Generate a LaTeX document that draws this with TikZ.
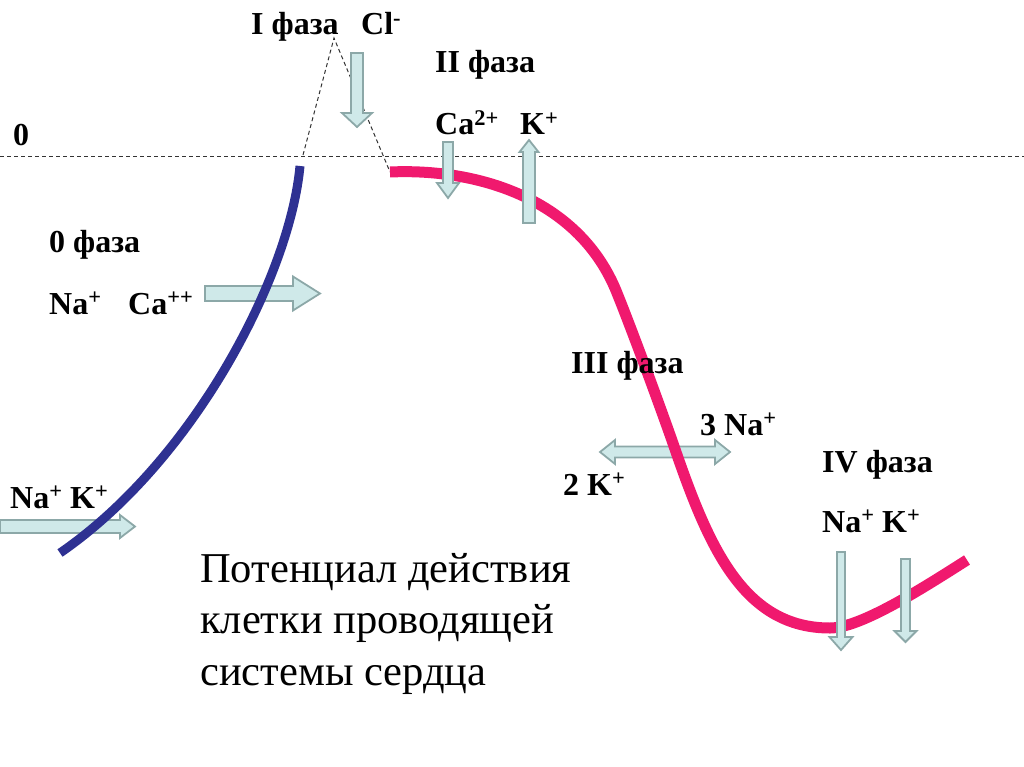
\documentclass[tikz,border=0pt]{standalone}
\usepackage{fontspec}
\setmainfont{Liberation Serif}
\usepackage{tikz}

\definecolor{ionfill}{HTML}{CFE9E9}
\definecolor{ionrim}{HTML}{8CA8A8}
\definecolor{depol}{HTML}{2E3192}
\definecolor{repol}{HTML}{F0196E}

\tikzset{
  phase/.style={font=\bfseries\fontsize{32}{36}\selectfont, anchor=base west, inner sep=0pt},
  ionarrow/.style={draw=ionrim, fill=ionfill, line width=1.8pt, line join=miter},
  zeroline/.style={dash pattern=on 4pt off 3pt, line width=1pt, black!80}
}

% start, length, angle, half body, half head, head length
\newcommand{\ionarrow}[6]{%
  \draw[ionarrow, shift={(#1)}, rotate=#3] (0,-#4) -- (#2-#6,-#4) -- (#2-#6,-#5) -- (#2,0)
    -- (#2-#6,#5) -- (#2-#6,#4) -- (0,#4) -- cycle;}

\begin{document}
\begin{tikzpicture}[x=1pt, y=-1pt]
\useasboundingbox (0,0) rectangle (1024,767);

% zero level
\node[phase] (zero) at (13,146) {0};
\draw[zeroline] (0,157) -- (1024,157);

\coordinate (peak) at (334,38);
\coordinate (blueend) at (303,155);
\coordinate (pinkstart) at (390,172);
\draw[zeroline] (blueend) -- (peak) -- (pinkstart);

% phase 0
\ionarrow{205,293.5}{115}{0}{7.5}{17}{27}
\ionarrow{0,526.5}{135}{0}{6.5}{11.5}{15}
\draw[depol, line width=9pt] (60,553) .. controls (195,460) and (290,275) .. (300,166);

% phases 1-4
\draw[ionarrow] (600,452) -- (615,440) -- (615,446.5) -- (715,446.5) -- (715,440) -- (730,452)
  -- (715,464) -- (715,457.5) -- (615,457.5) -- (615,464) -- cycle;
\draw[repol, line width=11pt] (pinkstart) .. controls (480,168) and (580,200) .. (617,293)
  .. controls (632,330) and (664,417) .. (676,452)
  .. controls (710,550) and (745,628) .. (830,628)
  .. controls (860,628) and (920,590) .. (967,560);

\ionarrow{357,53}{74}{-90}{6}{15}{14}
\ionarrow{448,142}{56}{-90}{5}{11}{15}
\ionarrow{529,223}{83}{90}{6}{9.5}{12}
\ionarrow{841,552}{98}{-90}{4}{11.5}{13}
\ionarrow{905.5,559}{83}{-90}{4.5}{11}{11}

% labels
\node[phase] (ph1) at (251,35) {I фаза};
\node[phase] (cl) at (361,35) {Cl\textsuperscript{-}};
\node[phase] (ph2) at (435,73) {II фаза};
\node[phase] (ca2) at (435,135) {Ca\textsuperscript{2+}};
\node[phase] (k2) at (520,135) {K\textsuperscript{+}};
\node[phase] (ph0) at (49,252) {0 фаза};
\node[phase] (na0) at (49,314) {Na\textsuperscript{+}};
\node[phase] (ca0) at (128,314) {Ca\textsuperscript{++}};
\node[phase] (na1) at (10,508) {Na\textsuperscript{+}};
\node[phase] (k1) at (70,508) {K\textsuperscript{+}};
\node[phase] (ph3) at (571,373) {III фаза};
\node[phase] (na3) at (700,435) {3 Na\textsuperscript{+}};
\node[phase] (k3) at (563,495) {2 K\textsuperscript{+}};
\node[phase] (ph4) at (822,472) {IV фаза};
\node[phase] (na4) at (822,532) {Na\textsuperscript{+}};
\node[phase] (k4) at (882,532) {K\textsuperscript{+}};

\node[anchor=base west, inner sep=0pt, align=left, font=\fontsize{42.5}{51.5}\selectfont] (caption)
  at (200,685) {Потенциал действия\\клетки проводящей\\системы сердца};
\end{tikzpicture}
\end{document}
